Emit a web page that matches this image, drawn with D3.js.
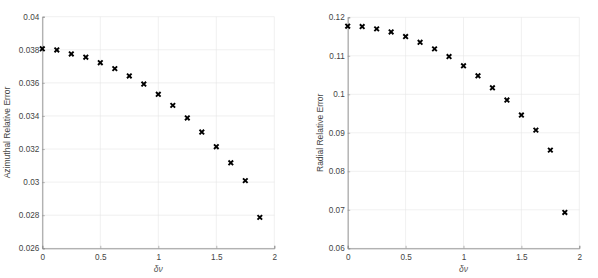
<!DOCTYPE html>
<html><head><meta charset="utf-8">
<script src="https://cdn.jsdelivr.net/npm/d3@7"></script>
<style>
body{margin:0;background:#fff;}
svg text{font-family:"Liberation Sans",Arial,sans-serif;}
</style></head>
<body><svg id="c" width="598" height="278"></svg>
<script>
const dnu = [0,0.125,0.25,0.375,0.5,0.625,0.75,0.875,1,1.125,1.25,1.375,1.5,1.625,1.75,1.875];
const azimuthal = [0.03806,0.03799,0.03775,0.03755,0.03722,0.03686,0.03642,0.03593,0.03531,0.03464,0.03388,0.03303,0.03214,0.03117,0.03009,0.02787];
const radial = [0.1177,0.1176,0.1170,0.1162,0.1150,0.1135,0.1118,0.1098,0.1074,0.1048,0.1017,0.0985,0.0946,0.0907,0.0855,0.0693];
const xTicks = [0,0.5,1,1.5,2];
const azTicks = [0.026,0.028,0.03,0.032,0.034,0.036,0.038,0.04];
const radTicks = [0.06,0.07,0.08,0.09,0.1,0.11,0.12];

const svg = d3.select("#c");
function panel(opt){
  const g = svg.append("g");
  const x = d3.scaleLinear().domain([0,2]).range([opt.x0,opt.x1]);
  const y = d3.scaleLinear().domain(opt.ydom).range([opt.y1,opt.y0]);
  g.selectAll(".gx").data(xTicks).enter().append("line")
    .attr("x1",d=>x(d)).attr("x2",d=>x(d)).attr("y1",opt.y0).attr("y2",opt.y1)
    .attr("stroke","#e5e5e5").attr("stroke-width",0.6);
  g.selectAll(".gy").data(opt.yTicks).enter().append("line")
    .attr("y1",d=>y(d)).attr("y2",d=>y(d)).attr("x1",opt.x0).attr("x2",opt.x1)
    .attr("stroke","#e5e5e5").attr("stroke-width",0.6);
  const xa = g.append("g").attr("transform",`translate(0,${opt.y1})`)
    .call(d3.axisBottom(x).tickValues(xTicks).tickSize(-2.5).tickPadding(6).tickFormat(d3.format("~g")));
  const ya = g.append("g").attr("transform",`translate(${opt.x0},0)`)
    .call(d3.axisLeft(y).tickValues(opt.yTicks).tickSize(-2.5).tickPadding(3).tickFormat(d=>String(+d.toPrecision(6))));
  [xa,ya].forEach(a=>{
    a.select(".domain").attr("stroke","#8c8c8c").attr("stroke-width",0.9);
    a.selectAll(".tick line").attr("stroke","#8c8c8c").attr("stroke-width",0.6);
    a.selectAll("text").attr("fill","#444").attr("font-size",8.2).attr("font-family","Liberation Sans, Arial, sans-serif");
  });
  g.append("text").attr("x",(opt.x0+opt.x1)/2).attr("y",272).attr("text-anchor","middle")
    .attr("font-size",8.5).attr("font-style","italic").attr("fill","#555")
    .attr("font-family","Liberation Serif, Times New Roman, serif").text("δν");
  g.append("text").attr("transform",`translate(${opt.labx},${(opt.y0+opt.y1)/2}) rotate(-90)`)
    .attr("text-anchor","middle").attr("font-size",8.5).attr("fill","#444").text(opt.ylabel);
  const s = 2.3;
  g.selectAll(".m").data(dnu.map((d,i)=>[d,opt.vals[i]])).enter().append("path")
    .attr("d",d=>{const cx=x(d[0]),cy=y(d[1]);return `M${cx-s},${cy-s}L${cx+s},${cy+s}M${cx-s},${cy+s}L${cx+s},${cy-s}`;})
    .attr("stroke","#000").attr("stroke-width",1.9).attr("fill","none");
}
panel({x0:42.3,x1:274.3,y0:16.7,y1:248.3,ydom:[0.026,0.04],yTicks:azTicks,vals:azimuthal,ylabel:"Azimuthal Relative Error",labx:9.5});
panel({x0:347.7,x1:579.3,y0:17.3,y1:248.3,ydom:[0.06,0.12],yTicks:radTicks,vals:radial,ylabel:"Radial Relative Error",labx:322.5});
</script></body></html>
